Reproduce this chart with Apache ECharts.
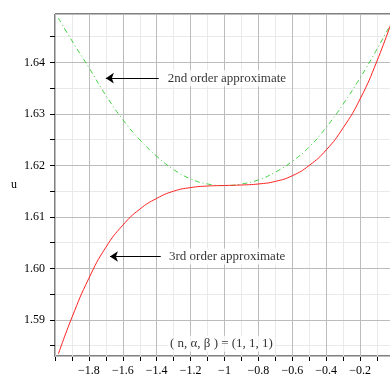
<!DOCTYPE html>
<html><head><meta charset="utf-8">
<script src="https://cdn.jsdelivr.net/npm/echarts@6/dist/echarts.min.js"></script>
<style>html,body{margin:0;padding:0;background:#fff}#c{width:390px;height:385px}</style>
</head><body><div id="c"></div>
<script>
// ---- data ----
const xValues = [-1.98, -1.9, -1.8, -1.7, -1.6, -1.5, -1.4, -1.3, -1.2, -1.1, -1.0, -0.9, -0.8, -0.7, -0.6, -0.5, -0.4, -0.3, -0.2, -0.1, 0];
const secondOrder = [1.6486, 1.6442, 1.6390, 1.6336, 1.6289, 1.6250, 1.6218, 1.6192, 1.6174, 1.6164, 1.6161, 1.6164, 1.6172, 1.6187, 1.6208, 1.6236, 1.6274, 1.6319, 1.6370, 1.6426, 1.6486];
const thirdOrder  = [1.5834, 1.5905, 1.5981, 1.6041, 1.6084, 1.6115, 1.6136, 1.6150, 1.6157, 1.6160, 1.6161, 1.6162, 1.6164, 1.6169, 1.6180, 1.6200, 1.6230, 1.6273, 1.6329, 1.6403, 1.6492];
const yMajorTicks = [1.59, 1.60, 1.61, 1.62, 1.63, 1.64];
const yMinorTicks = [1.585, 1.595, 1.605, 1.615, 1.625, 1.635, 1.645];
const noteTexts = ['2nd order approximate', '3rd order approximate', '( n, α, β ) = (1, 1, 1)'];
const noteX = [-1.350, -1.342, -1.337];
const noteY = [1.63695, 1.60232, 1.58539];
const arrowFromX = [-1.388, -1.376];
const arrowToX = [-1.70, -1.676];
const arrowY = [1.63695, 1.60232];

const SERIF = '"Liberation Serif", "DejaVu Serif", serif';
const chart = echarts.init(document.getElementById('c'), null, {renderer: 'canvas'});
const fmtX = v => (Math.abs(v) < 1e-9 ? '0' : String(+v.toFixed(1)).replace('-', '\u2212'));
const allYTicks = yMajorTicks.concat(yMinorTicks).sort((a, b) => a - b);

chart.setOption({
  animation: false,
  backgroundColor: '#fff',
  grid: {left: 55, top: 14, right: -4, bottom: 29, outerBoundsMode: 'none', containLabel: false,
    show: true, borderColor: '#000', borderWidth: 1, backgroundColor: 'transparent'},
  xAxis: {
    type: 'value', min: -2, max: 0, interval: 0.2,
    name: 'x', nameLocation: 'middle', nameGap: 27,
    nameTextStyle: {fontFamily: SERIF, fontStyle: 'italic', fontSize: 10, color: '#000'},
    axisLine: {show: true, lineStyle: {color: '#000', width: 1}},
    axisTick: {show: true, length: 5, lineStyle: {color: '#000'}},
    minorTick: {show: true, splitNumber: 2, length: 5, lineStyle: {color: '#000'}},
    axisLabel: {formatter: fmtX, showMinLabel: false, margin: 9, fontFamily: SERIF, fontSize: 12, color: '#000'},
    splitLine: {show: true, lineStyle: {color: '#bcbcbc', width: 1}},
    minorSplitLine: {show: true, lineStyle: {color: '#e9e9e9', width: 1}}
  },
  yAxis: [{
    type: 'value', min: 1.583, max: 1.6494, z: 1,
    name: 'u', nameLocation: 'middle', nameRotate: 0, nameGap: 38,
    nameTextStyle: {fontFamily: SERIF, fontSize: 12, color: '#000'},
    axisLine: {show: true, lineStyle: {color: '#000', width: 1}},
    axisTick: {show: false},
    axisLabel: {customValues: yMajorTicks, formatter: v => v.toFixed(2), margin: 10, fontFamily: SERIF, fontSize: 12, color: '#000'},
    splitLine: {show: true, lineStyle: {color: '#bcbcbc', width: 1}}
  }, {
    type: 'value', min: 1.583, max: 1.6494, position: 'left', offset: 0, z: 0,
    axisLine: {show: false},
    axisTick: {show: true, length: 5, customValues: allYTicks, lineStyle: {color: '#000'}},
    axisLabel: {show: false},
    splitLine: {show: true, lineStyle: {color: '#e9e9e9', width: 1}}
  }],
  series: [{
    type: 'line', name: '2nd order', yAxisIndex: 0, smooth: 0.5, showSymbol: false, symbol: 'none',
    data: xValues.map((x, i) => [x, secondOrder[i]]),
    lineStyle: {color: '#3fcf3f', width: 1, type: [5, 3, 1, 3]}, z: 3
  }, {
    type: 'line', name: '3rd order', yAxisIndex: 0, smooth: 0.5, showSymbol: false, symbol: 'none',
    data: xValues.map((x, i) => [x, thirdOrder[i]]),
    lineStyle: {color: '#ff2020', width: 1}, z: 4
  }, {
    type: 'scatter', yAxisIndex: 0, silent: true, z: 6,
    symbolSize: 1, itemStyle: {color: 'rgba(0,0,0,0)'},
    data: noteX.map((x, i) => [x, noteY[i]]),
    label: {show: true, position: 'right', distance: 0, formatter: p => noteTexts[p.dataIndex],
      backgroundColor: '#fff', padding: [2, 2, 1, 2], fontFamily: SERIF, fontSize: 13, color: '#000'},
    markLine: {
      silent: true, symbol: ['none', 'arrow'], symbolSize: 8, precision: 6,
      label: {show: false},
      lineStyle: {color: '#000', width: 1, type: 'solid'},
      data: arrowY.map((y, i) => [{coord: [arrowFromX[i], y]}, {coord: [arrowToX[i], y]}])
    }
  }]
});
</script></body></html>
